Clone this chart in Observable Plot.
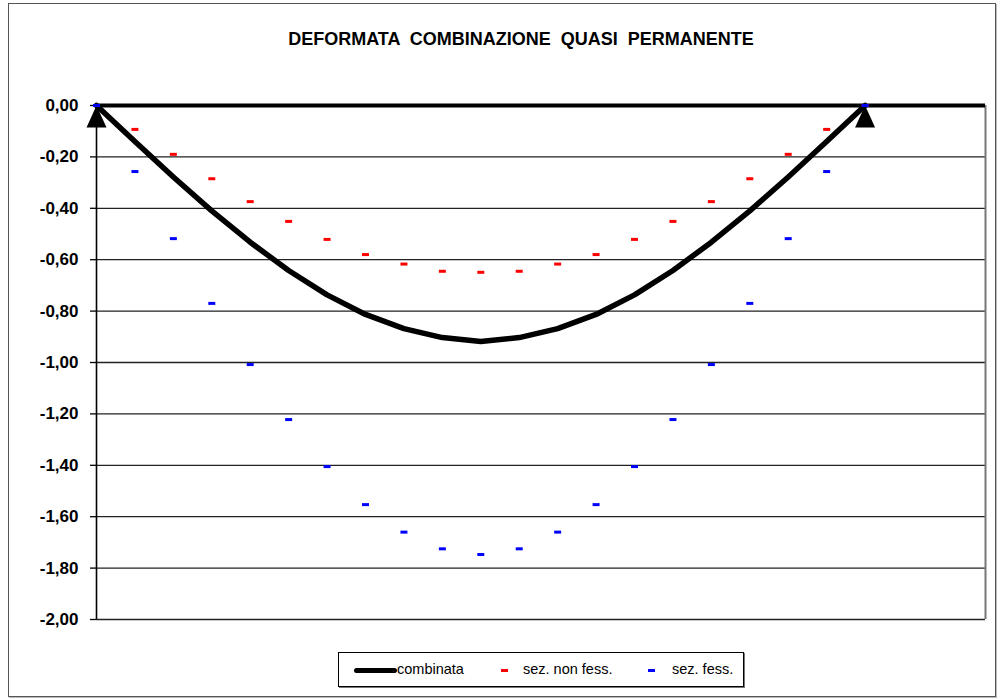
<!DOCTYPE html>
<html><head><meta charset="utf-8">
<script src="https://cdn.jsdelivr.net/npm/d3@7"></script>
<script src="https://cdn.jsdelivr.net/npm/@observablehq/plot@0.6"></script>
<style>
body{margin:0;background:#fff;}
#wrap{position:relative;width:1003px;height:699px;font-family:"Liberation Sans",Arial,sans-serif;overflow:hidden;background:#fff;}
#frame{position:absolute;left:8px;top:3px;width:986px;height:692px;border:1px solid #555;pointer-events:none;box-shadow:1px 1px 0 #bbb;}
#title{position:absolute;left:8px;width:1026px;top:29px;text-align:center;font-weight:bold;font-size:18px;white-space:pre;color:#000;}
#chart{position:absolute;left:0;top:0;}
#legend{position:absolute;left:338px;top:652px;width:404px;height:33px;border:1px solid #000;box-shadow:1px 1px 0 #777;font-size:14.5px;background:#fff;}
#legend .it{position:absolute;top:8px;white-space:pre;}
#legend .sw{position:absolute;}
</style>
</head><body>
<div id="wrap">
  <div id="chart"></div>
  <div id="title"></div>
  <div id="legend"></div>
  <div id="frame"></div>
</div>
<script>
const titleText = "DEFORMATA  COMBINAZIONE  QUASI  PERMANENTE";
const seriesNames = ["combinata", "sez. non fess.", "sez. fess."];
const seriesColors = ["#000000", "#ff0000", "#0000ff"];

const xPos = [0, 0.3, 0.6, 0.9, 1.2, 1.5, 1.8, 2.1, 2.4, 2.7, 3.0, 3.3, 3.6, 3.9, 4.2, 4.5, 4.8, 5.1, 5.4, 5.7, 6.0];
const combinata = [0, -0.14, -0.278, -0.41, -0.532, -0.642, -0.737, -0.813, -0.868, -0.903, -0.918, -0.903, -0.868, -0.813, -0.737, -0.642, -0.532, -0.41, -0.278, -0.14, 0];
const nonFess = [0, -0.093, -0.19, -0.285, -0.374, -0.451, -0.521, -0.58, -0.617, -0.645, -0.649, -0.645, -0.617, -0.58, -0.521, -0.451, -0.374, -0.285, -0.19, -0.093, 0];
const fess = [0, -0.257, -0.518, -0.77, -1.008, -1.222, -1.405, -1.553, -1.66, -1.725, -1.747, -1.725, -1.66, -1.553, -1.405, -1.222, -1.008, -0.77, -0.518, -0.257, 0];
const supportX = [0, 6.0];
const xDomain = [0, 6.94];
const yTicks = [0, -0.2, -0.4, -0.6, -0.8, -1.0, -1.2, -1.4, -1.6, -1.8, -2.0];

const fmt = d => (Math.abs(d) < 1e-9 ? 0 : d).toFixed(2).replace(".", ",");

const triangleSym = { draw(ctx) { ctx.moveTo(0, 0); ctx.lineTo(10, 22); ctx.lineTo(-10, 22); ctx.closePath(); } };
const dashSym = { draw(ctx) { ctx.moveTo(-3.5, -1.5); ctx.lineTo(3.5, -1.5); ctx.lineTo(3.5, 1.5); ctx.lineTo(-3.5, 1.5); ctx.closePath(); } };

const pts = (ys) => xPos.map((x, i) => ({x, y: ys[i]}));

const chart = Plot.plot({
  width: 1003, height: 699,
  marginLeft: 96, marginRight: 18, marginTop: 105, marginBottom: 80,
  x: {domain: xDomain, axis: null},
  y: {domain: [-2, 0], axis: null},
  style: {fontFamily: '"Liberation Sans", Arial, sans-serif', background: "transparent", color: "#000"},
  marks: [
    Plot.gridY(yTicks, {stroke: "#222", strokeOpacity: 1, strokeWidth: 1.3}),
    Plot.ruleX([xDomain[1]], {stroke: "#777", strokeWidth: 2}),
    Plot.ruleX([xDomain[0]], {stroke: "#000", strokeWidth: 1.6}),
    Plot.axisY(yTicks, {label: null, tickSize: 6, tickPadding: 12, tickFormat: fmt, fontSize: 17, fontWeight: "bold", strokeWidth: 1.3}),
    Plot.ruleY([0], {stroke: "#000", strokeWidth: 4}),
    Plot.line(pts(combinata), {x: "x", y: "y", stroke: seriesColors[0], strokeWidth: 5.5, curve: "linear"}),
    Plot.dot(supportX.map(x => ({x, y: 0})), {x: "x", y: "y", symbol: triangleSym, fill: "#000", stroke: null, r: 5}),
    Plot.dot(pts(nonFess), {x: "x", y: "y", symbol: dashSym, fill: seriesColors[1], stroke: null, r: 3}),
    Plot.dot(pts(fess), {x: "x", y: "y", symbol: dashSym, fill: seriesColors[2], stroke: null, r: 3})
  ]
});
document.getElementById("chart").appendChild(chart);
document.getElementById("title").textContent = titleText;

const legend = document.getElementById("legend");
const items = [
  {sw: {left: 15, top: 15, width: 43, height: 5, background: seriesColors[0], borderRadius: "3px"}, tx: 58},
  {sw: {left: 162, top: 16, width: 7, height: 3, background: seriesColors[1]}, tx: 184},
  {sw: {left: 309, top: 16, width: 7, height: 3, background: seriesColors[2]}, tx: 333}
];
items.forEach((it, i) => {
  const s = document.createElement("div");
  s.className = "sw";
  Object.entries(it.sw).forEach(([k, v]) => s.style[k] = typeof v === "number" ? v + "px" : v);
  legend.appendChild(s);
  const t = document.createElement("div");
  t.className = "it";
  t.style.left = it.tx + "px";
  t.textContent = seriesNames[i];
  legend.appendChild(t);
});
</script>
</body></html>
